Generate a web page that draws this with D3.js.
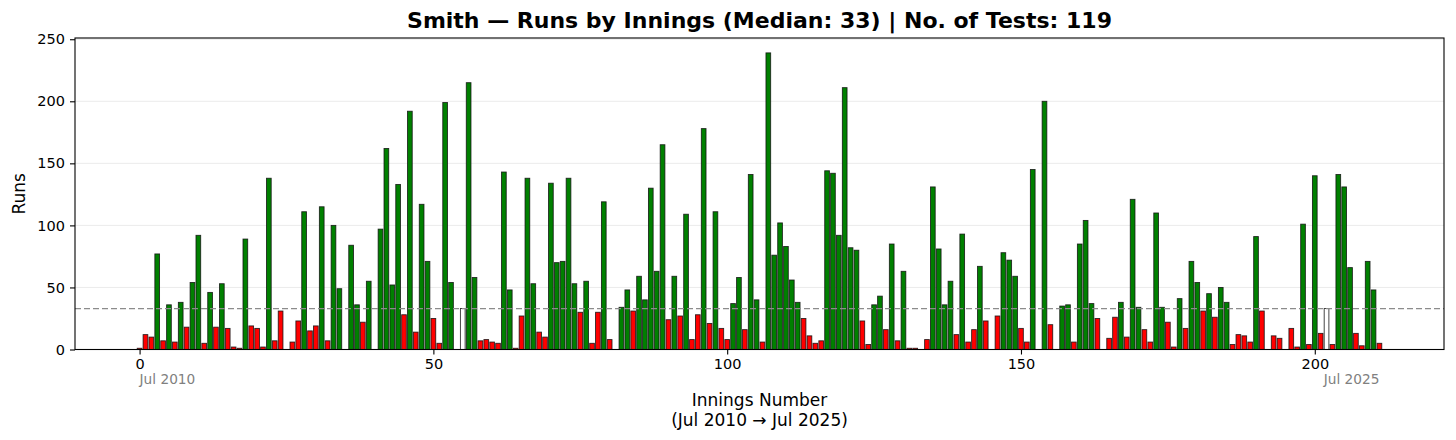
<!DOCTYPE html>
<html lang="en">
<head>
<meta charset="UTF-8">
<script src="https://d3js.org/d3.v7.min.js"></script>
<title>Smith Runs by Innings</title>
<style>
    body { margin: 0; background: #fff; }
    text { font-family: "DejaVu Sans", sans-serif; }
</style>
</head>
<body>
<script>

    // runs per innings, in order
    var runs = [
        1, 12, 10, 77, 7, 36, 6, 38, 18, 54, 92, 5, 46, 18, 53, 17, 2, 1, 89, 19,
        17, 2, 138, 7, 31, 0, 6, 23, 111, 15, 19, 115, 7, 100, 49, 0, 84, 36, 22, 55,
        0, 97, 162, 52, 133, 28, 192, 14, 117, 71, 25, 5, 199, 54, 0, 33, 215, 58, 7, 8,
        6, 5, 143, 48, 1, 27, 138, 53, 14, 10, 134, 70, 71, 138, 53, 30, 55, 5, 30, 119,
        8, 0, 34, 48, 31, 59, 40, 130, 63, 165, 24, 59, 27, 109, 8, 28, 178, 21, 111, 17,
        8, 37, 58, 16, 141, 40, 6, 239, 76, 102, 83, 56, 38, 25, 11, 5, 7, 144, 142, 92,
        211, 82, 80, 23, 4, 36, 43, 16, 85, 7, 63, 1, 1, 0, 8, 131, 81, 36, 55, 12,
        93, 6, 16, 67, 23, 0, 27, 78, 72, 59, 17, 6, 145, 0, 200, 20, 0, 35, 36, 6,
        85, 104, 37, 25, 0, 9, 26, 38, 10, 121, 34, 16, 6, 110, 34, 22, 2, 41, 17, 71,
        54, 31, 45, 26, 50, 38, 4, 12, 11, 6, 91, 31, 0, 11, 9, 0, 17, 2, 101, 4,
        140, 13, 33, 4, 141, 131, 66, 13, 3, 71, 48, 5
    ];
    var median = 33;
    var tests = 119;
    var xTicks = [0, 50, 100, 150, 200];
    var yTicks = [0, 50, 100, 150, 200, 250];
    var firstDate = "Jul 2010";
    var lastDate = "Jul 2025";

    var width = 1456;
    var height = 440;
    var plotLeft = 75, plotRight = 1444, plotTop = 38, plotBottom = 349.5;

    var svg = d3.select("body").append("svg")
        .attr("width", width)
        .attr("height", height);

    var n = runs.length;
    var lo = -0.4, hi = n - 1 + 0.4;
    var pad = (hi - lo) * 0.05;

    var x = d3.scaleLinear()
        .domain([lo - pad, hi + pad])
        .range([plotLeft, plotRight]);

    var y = d3.scaleLinear()
        .domain([0, 251])
        .range([plotBottom, plotTop]);

    var bw = x(0.8) - x(0);

    // grid
    svg.append("g")
        .selectAll("line")
        .data(yTicks)
        .enter()
        .append("line")
        .attr("x1", plotLeft)
        .attr("x2", plotRight)
        .attr("y1", function (d) { return y(d); })
        .attr("y2", function (d) { return y(d); })
        .attr("stroke", "#ebebeb")
        .attr("stroke-width", 1);

    function barColor(d) {
        if (d > median) return "#008000";
        if (d < median) return "#ff0000";
        return "#ffffff";
    }

    svg.append("g")
        .selectAll("rect")
        .data(runs)
        .enter()
        .append("rect")
        .attr("x", function (d, i) { return x(i - 0.4); })
        .attr("y", function (d) { return y(d); })
        .attr("width", bw)
        .attr("height", function (d) { return plotBottom - y(d); })
        .attr("fill", barColor)
        .attr("stroke", "#111")
        .attr("stroke-opacity", 0.85)
        .attr("stroke-width", 0.9);

    // median line
    svg.append("line")
        .attr("x1", plotLeft)
        .attr("x2", plotRight)
        .attr("y1", y(median))
        .attr("y2", y(median))
        .attr("stroke", "#8c8c8c")
        .attr("stroke-width", 1.3)
        .attr("stroke-dasharray", "6,3");

    // frame
    svg.append("rect")
        .attr("x", plotLeft)
        .attr("y", plotTop)
        .attr("width", plotRight - plotLeft)
        .attr("height", plotBottom - plotTop)
        .attr("fill", "none")
        .attr("stroke", "#000")
        .attr("stroke-width", 1.1);

    var xAxis = svg.append("g")
        .attr("transform", "translate(0," + plotBottom + ")")
        .call(d3.axisBottom(x).tickValues(xTicks).tickSize(5).tickPadding(4).tickFormat(d3.format("d")));
    xAxis.select(".domain").remove();
    xAxis.selectAll("text").attr("font-size", "14.5px").attr("fill", "#000")
        .attr("font-family", "DejaVu Sans");
    xAxis.selectAll("line").attr("stroke", "#000").attr("stroke-width", 1.1);

    var yAxis = svg.append("g")
        .attr("transform", "translate(" + plotLeft + ",0)")
        .call(d3.axisLeft(y).tickValues(yTicks).tickSize(5).tickPadding(5));
    yAxis.select(".domain").remove();
    yAxis.selectAll("text").attr("font-size", "14.5px").attr("fill", "#000")
        .attr("font-family", "DejaVu Sans");
    yAxis.selectAll("line").attr("stroke", "#000").attr("stroke-width", 1.1);

    // date hints
    svg.append("text")
        .attr("x", x(0))
        .attr("y", 384)
        .attr("font-size", "13.7px")
        .attr("fill", "#808080")
        .text(firstDate);

    svg.append("text")
        .attr("x", x(n - 1))
        .attr("y", 384)
        .attr("text-anchor", "end")
        .attr("font-size", "13.7px")
        .attr("fill", "#808080")
        .text(lastDate);

    // labels
    svg.append("text")
        .attr("x", (plotLeft + plotRight) / 2)
        .attr("y", 406)
        .attr("text-anchor", "middle")
        .attr("font-size", "17px")
        .text("Innings Number");

    svg.append("text")
        .attr("x", (plotLeft + plotRight) / 2)
        .attr("y", 426)
        .attr("text-anchor", "middle")
        .attr("font-size", "17px")
        .text("(" + firstDate + " \u2192 " + lastDate + ")");

    svg.append("text")
        .attr("transform", "translate(25," + ((plotTop + plotBottom) / 2) + ") rotate(-90)")
        .attr("text-anchor", "middle")
        .attr("font-size", "17px")
        .text("Runs");

    svg.append("text")
        .attr("x", (plotLeft + plotRight) / 2)
        .attr("y", 28)
        .attr("text-anchor", "middle")
        .attr("font-size", "22px")
        .attr("font-weight", "bold")
        .text("Smith \u2014 Runs by Innings (Median: " + median + ") | No. of Tests: " + tests);

</script>
</body>
</html>
